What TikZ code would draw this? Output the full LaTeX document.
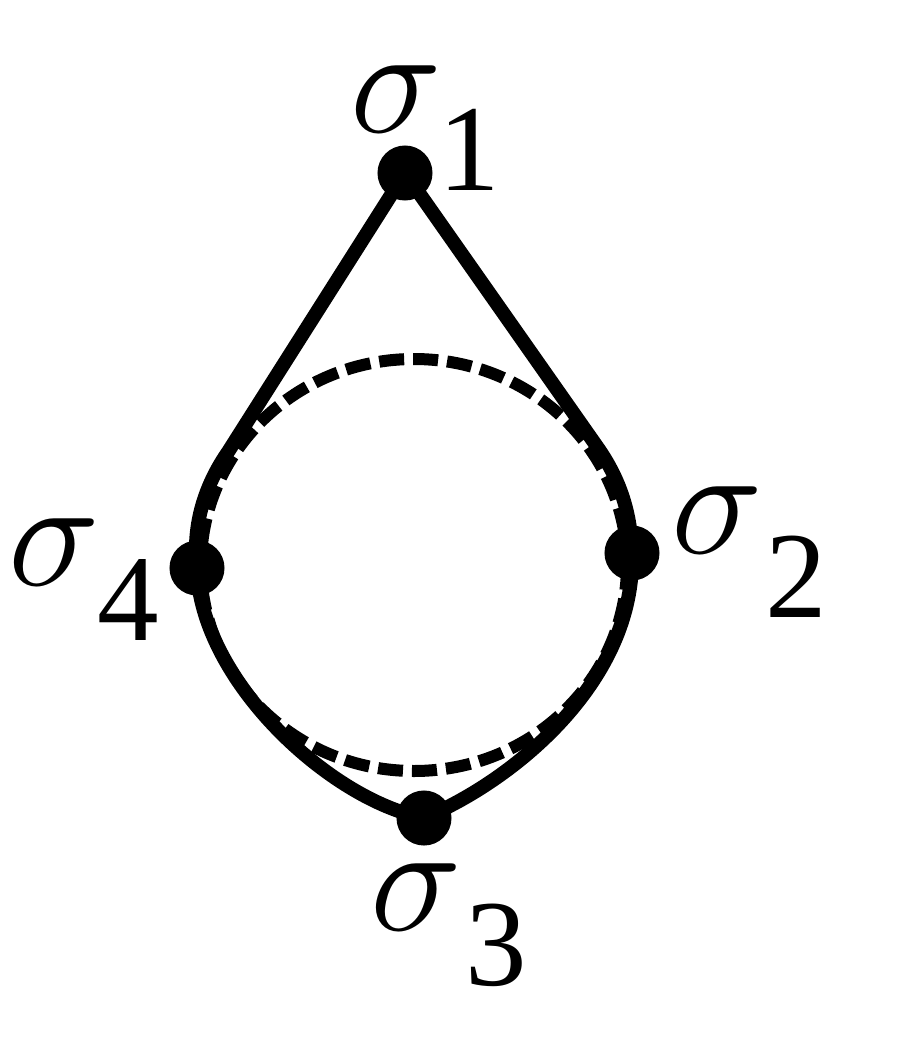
\RequirePackage{fix-cm}
\documentclass[tikz,border=0pt]{standalone}
\usepackage{fontspec}
\setmainfont{Liberation Serif}
\begin{document}
\begin{tikzpicture}[x=0.01cm,y=-0.01cm,
  edge/.style={line width=0.14cm, line join=round, line cap=round},
  dashcirc/.style={line width=0.12cm, dash pattern=on 0.25cm off 0.09cm},
  dot/.style={circle, fill=black, inner sep=0pt, minimum size=0.55cm},
  sig/.style={inner sep=0pt, anchor=base west, font=\fontsize{44}{48}\selectfont},
  dig/.style={inner sep=0pt, anchor=base west, font=\fontsize{35}{40}\selectfont}]
\useasboundingbox (0,0) rectangle (900,1042);
\draw[dashcirc] (414,565) ellipse [x radius=213, y radius=206];
\node[dot] (s1) at (405,173) {};
\node[dot] (s2) at (632,553) {};
\node[dot] (s3) at (424,818) {};
\node[dot] (s4) at (197,568) {};
\coordinate (t1) at (598,448);
\coordinate (t4) at (228,452);
\draw[edge] (s1.center) -- (t1) .. controls (621,481) and (631,515) .. (s2.center)
  .. controls (636,680) and (515,780) .. (s3.center)
  .. controls (330,800) and (200,680) .. (s4.center)
  .. controls (192,525) and (205,485) .. (t4) -- cycle;
\node[sig] (l1) at (350,132) {$\sigma$};
\node[dig] (d1) at (438,190) {1};
\node[sig] (l2) at (671,553) {$\sigma$};
\node[dig] (d2) at (765,617) {2};
\node[sig] (l3) at (370,930) {$\sigma$};
\node[dig] (d3) at (465,985) {3};
\node[sig] (l4) at (8,585) {$\sigma$};
\node[dig] (d4) at (97,640) {4};
\end{tikzpicture}
\end{document}
